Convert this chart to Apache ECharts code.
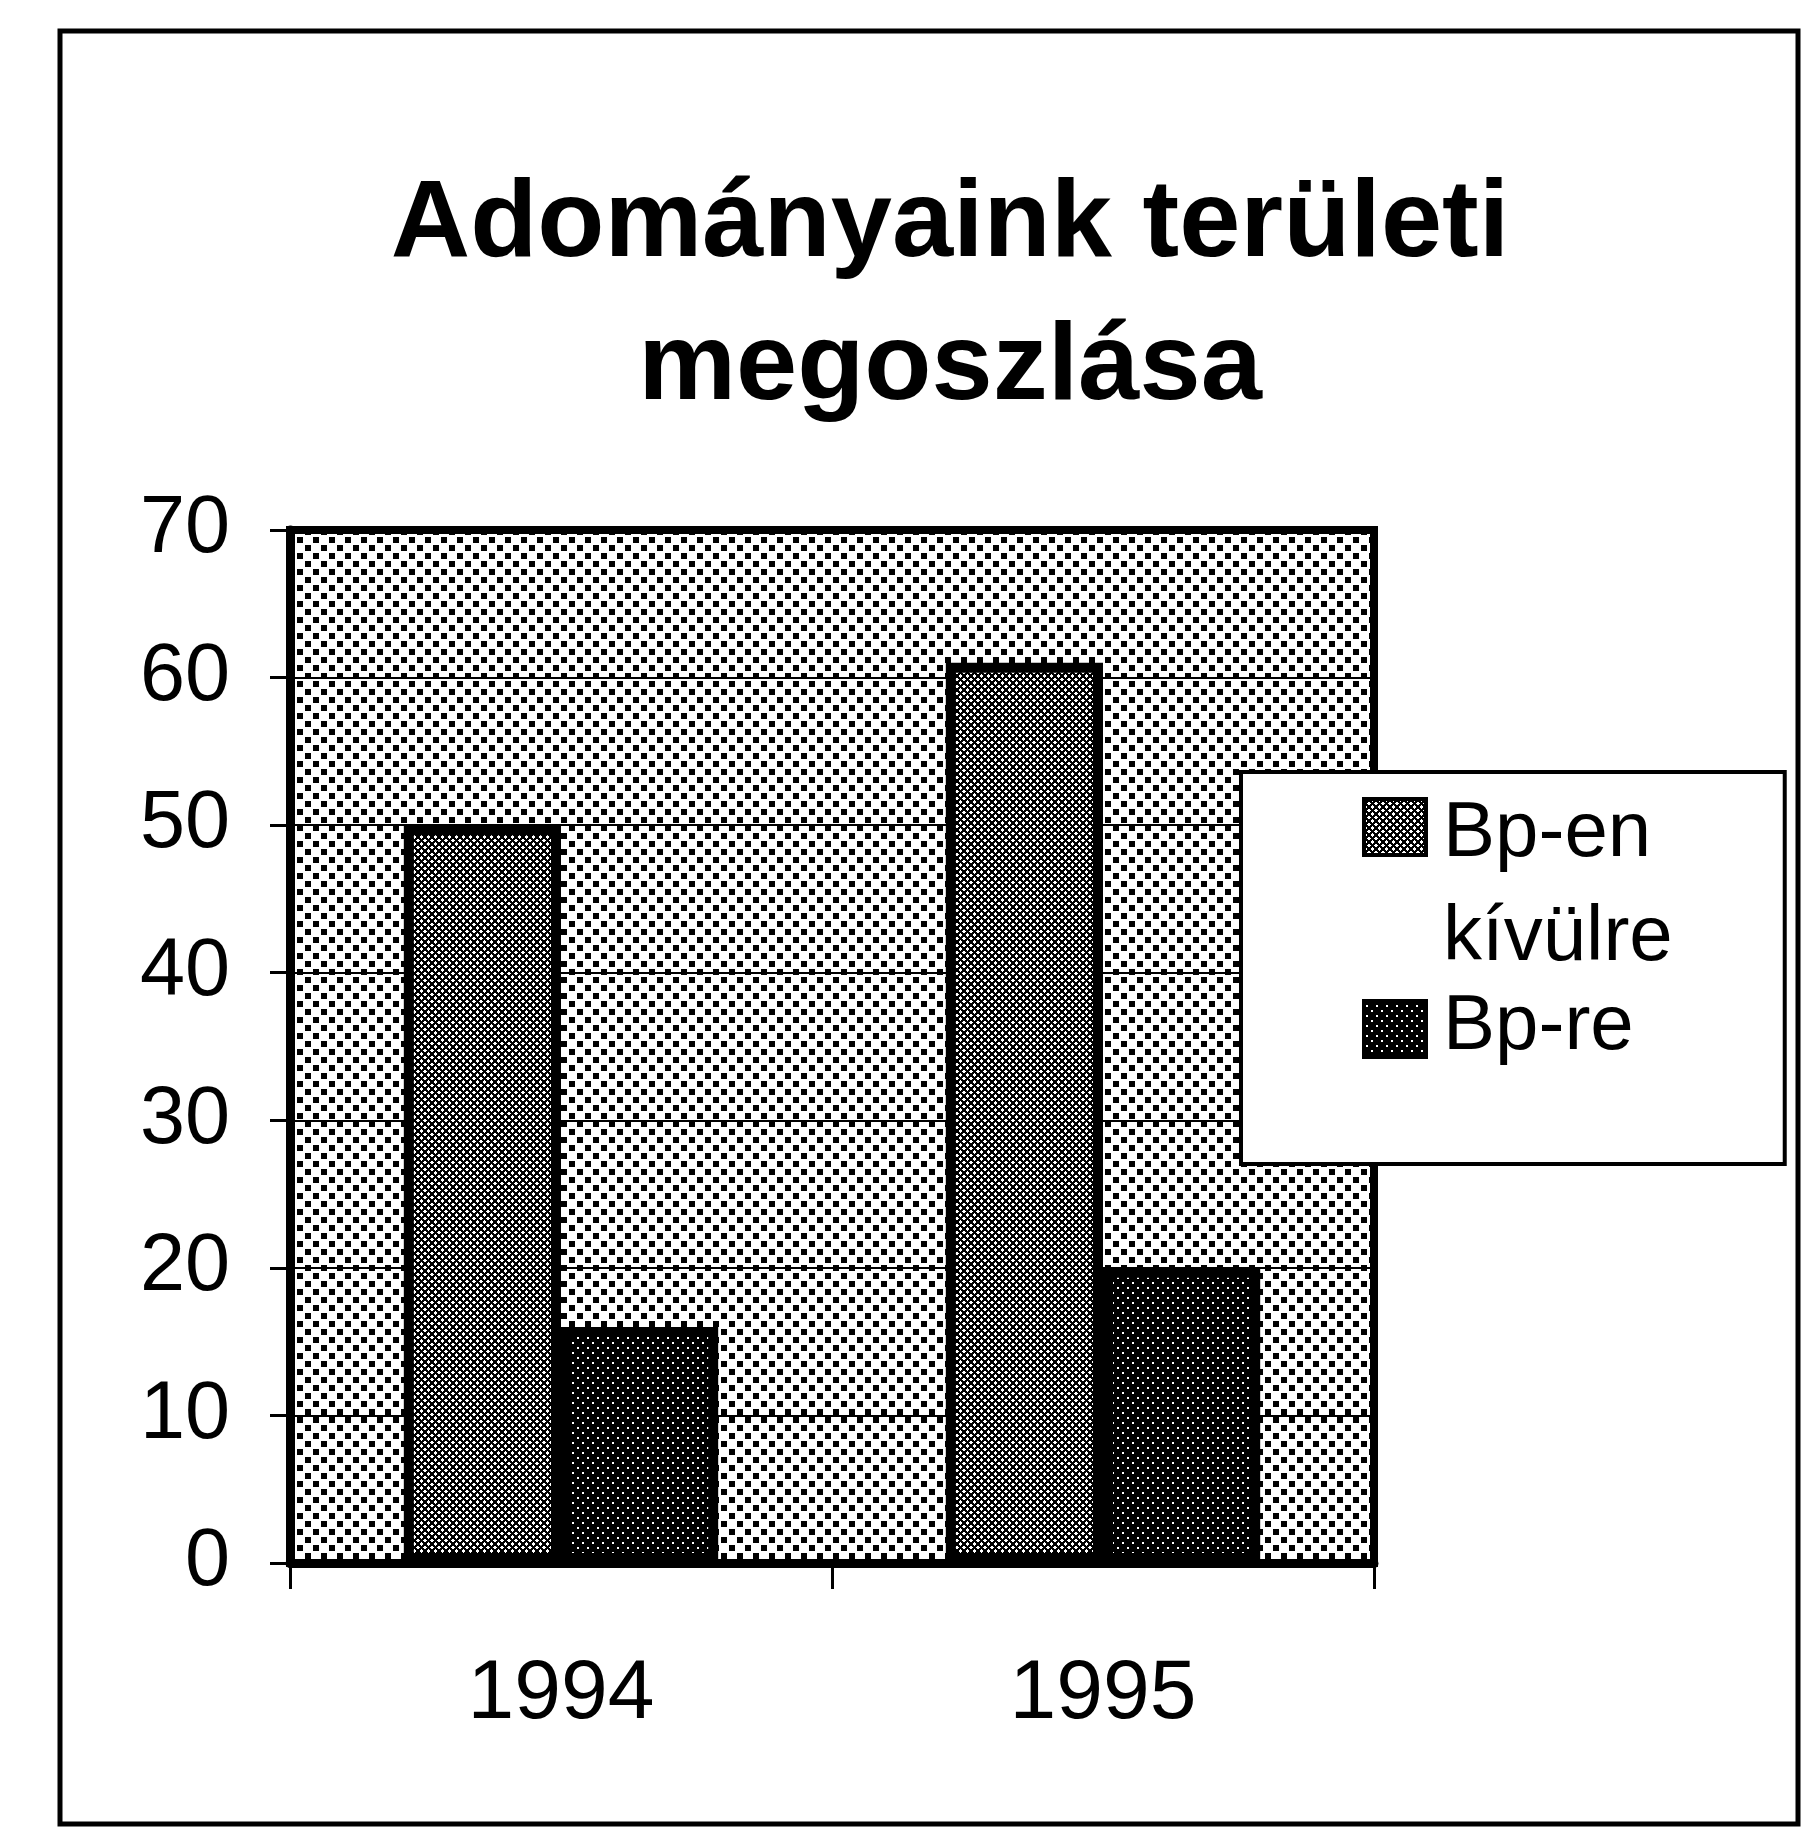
<!DOCTYPE html>
<html><head><meta charset="utf-8">
<script src="https://cdn.jsdelivr.net/npm/echarts@6/dist/echarts.min.js"></script>
<style>html,body{margin:0;padding:0;background:#fff}#c{width:1804px;height:1833px}</style>
</head><body><div id="c"></div>
<script>
const titleText = 'Adományaink területi\nmegoszlása';
const categories = ['1994', '1995'];
const seriesNames = ['Bp-en kívülre', 'Bp-re'];
const bpOutside = [50, 61];
const bpInside = [16, 20];
const yMin = 0, yMax = 70, yInterval = 10;

function pattern(w, h, fn) {
  const c = document.createElement('canvas');
  c.width = w; c.height = h;
  const ctx = c.getContext('2d');
  fn(ctx, w, h);
  return c;
}
const bgPat = pattern(16, 16, (ctx) => {
  ctx.fillStyle = '#fff'; ctx.fillRect(0, 0, 16, 16);
  ctx.fillStyle = '#000'; ctx.fillRect(1, 1, 6, 6); ctx.fillRect(9, 9, 6, 6);
});
const outPat = pattern(7, 7, (ctx) => {
  const img = ctx.createImageData(7, 7);
  for (let y = 0; y < 7; y++) for (let x = 0; x < 7; x++) {
    const blk = ((x + y) % 7 < 3) || ((x - y + 7) % 7 < 3);
    const i = (y * 7 + x) * 4, v = blk ? 0 : 255;
    img.data[i] = img.data[i + 1] = img.data[i + 2] = v; img.data[i + 3] = 255;
  }
  ctx.putImageData(img, 0, 0);
});
const inPat = pattern(10, 10, (ctx) => {
  ctx.fillStyle = '#000'; ctx.fillRect(0, 0, 10, 10);
  ctx.fillStyle = '#fff'; ctx.fillRect(2, 2, 2, 2); ctx.fillRect(7, 7, 2, 2);
});

const font = 'Liberation Sans';
const chart = echarts.init(document.getElementById('c'), null, { renderer: 'canvas' });
chart.setOption({
  animation: false,
  backgroundColor: '#fff',
  title: {
    text: titleText, left: 945, top: 149, textAlign: 'center',
    textStyle: { fontFamily: font, fontWeight: 'bold', fontSize: 110, lineHeight: 143, color: '#000' }
  },
  graphic: [{
    type: 'rect', silent: true, z: -1,
    shape: { x: 60, y: 31, width: 1738, height: 1793 },
    style: { fill: 'transparent', stroke: '#000', lineWidth: 5 }
  }],
  grid: {
    left: 290, right: 430, top: 530, bottom: 270, show: true,
    backgroundColor: { image: bgPat, repeat: 'repeat' },
    borderColor: '#000', borderWidth: 8
  },
  xAxis: {
    type: 'category', data: categories,
    axisLine: { show: true, lineStyle: { color: '#000', width: 9 } },
    axisTick: { show: true, alignWithLabel: false, length: 26, lineStyle: { color: '#000', width: 3 } },
    axisLabel: { margin: 90, fontSize: 84, fontFamily: font, color: '#000' },
    splitLine: { show: false }
  },
  yAxis: {
    type: 'value', min: yMin, max: yMax, interval: yInterval,
    axisLine: { show: true, lineStyle: { color: '#000', width: 9 } },
    axisTick: { show: true, length: 20, lineStyle: { color: '#000', width: 3 } },
    axisLabel: { margin: 60, fontSize: 81, fontFamily: font, color: '#000' },
    splitLine: { show: true, lineStyle: { color: '#000', width: 2 } }
  },
  legend: {
    orient: 'vertical', left: 1241, top: 772, itemWidth: 62, itemHeight: 208, itemGap: -71,
    padding: [8, 112, 31, 121], selectedMode: false,
    backgroundColor: '#fff', borderColor: '#000', borderWidth: 4,
    textStyle: { fontFamily: font, fontSize: 78, lineHeight: 104, color: '#000', padding: [0, 0, 0, 12] },
    formatter: (n) => n.replace(' ', '\n'),
    itemStyle: { borderColor: '#000', borderWidth: 4 },
    data: [
      { name: seriesNames[0], icon: 'path://M0,0M62,208M0,17L62,17L62,73L0,73Z' },
      { name: seriesNames[1], icon: 'path://M0,0M62,208M0,78L62,78L62,134L0,134Z' }
    ]
  },
  series: [
    {
      name: seriesNames[0], type: 'bar', data: bpOutside, barGap: '0%', barCategoryGap: '42%',
      itemStyle: { color: { image: outPat, repeat: 'repeat' }, borderColor: '#000', borderWidth: 10 }
    },
    {
      name: seriesNames[1], type: 'bar', data: bpInside, barGap: '0%', barCategoryGap: '42%',
      itemStyle: { color: { image: inPat, repeat: 'repeat' }, borderColor: '#000', borderWidth: 10 }
    }
  ]
});
</script></body></html>
